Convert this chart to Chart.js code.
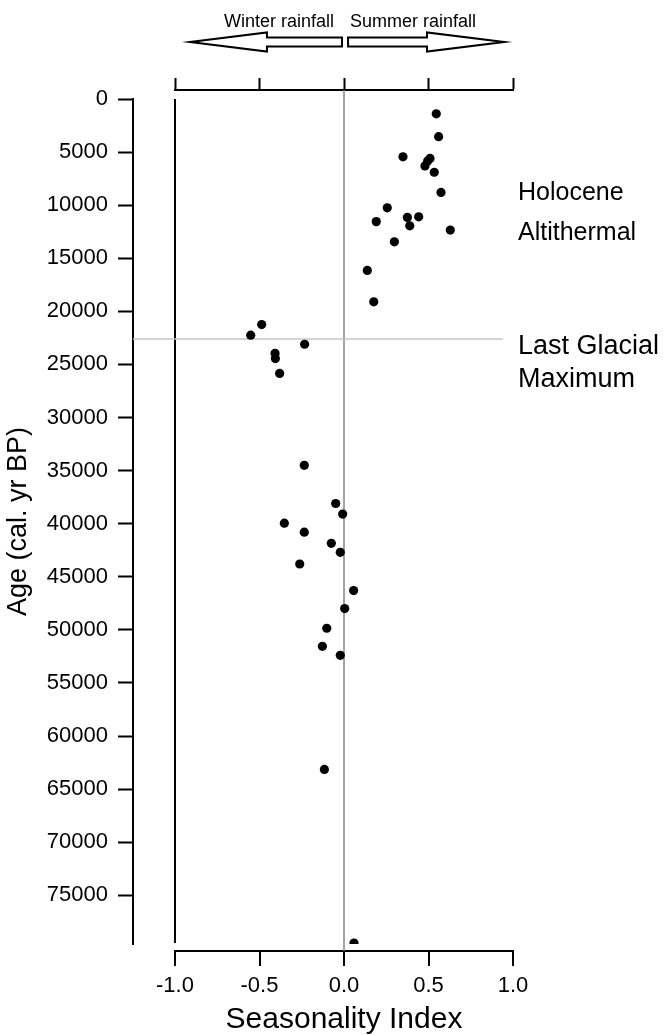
<!DOCTYPE html>
<html>
<head>
<meta charset="utf-8">
<script src="https://cdn.jsdelivr.net/npm/chart.js@4/dist/chart.umd.min.js"></script>
<style>
  html, body { margin: 0; padding: 0; background: #fff; }
  #box { width: 666px; height: 1035px; }
</style>
</head>
<body>
<div id="box"><canvas id="sc" width="666" height="1035"></canvas></div>
<script>
// seasonality index (x) and age in cal. yr BP (y)
let seasonality = [0.546, 0.56, 0.349, 0.509, 0.495, 0.479, 0.534, 0.574, 0.256, 0.375,
                   0.442, 0.191, 0.389, 0.629, 0.298, 0.138, 0.176, -0.487, -0.552, -0.233,
                   -0.408, -0.406, -0.381, -0.235, -0.049, -0.008, -0.353, -0.235, -0.075, -0.022,
                   -0.262, 0.057, 0.004, -0.102, -0.128, -0.022, -0.116, 0.059];
let ages = [1400, 3550, 5450, 5600, 5850, 6300, 6900, 8800, 10250, 11150,
            11100, 11550, 11950, 12350, 13450, 16150, 19100, 21250, 22250, 23100,
            23950, 24450, 25850, 34500, 38100, 39100, 39950, 40800, 41850, 42700,
            43800, 46300, 48000, 49850, 51550, 52400, 63150, 79500];

let ageTicks = [0, 5000, 10000, 15000, 20000, 25000, 30000, 35000, 40000, 45000,
                50000, 55000, 60000, 65000, 70000, 75000];
let indexTicks = [-1.0, -0.5, 0.0, 0.5, 1.0];
let lgmAge = 22600;

const FONT = "'Liberation Sans', Arial, Helvetica, sans-serif";
const points = seasonality.map((v, i) => ({x: v, y: ages[i]}));

// gray reference lines: zero index and Last Glacial Maximum
const refLines = {
    id: 'refLines',
    beforeDatasetsDraw(chart) {
        const {ctx, scales} = chart;
        const x = scales.x, top = scales.x2, y = scales.y;
        ctx.save();
        ctx.lineWidth = 1.5;
        ctx.strokeStyle = '#858585';
        let x0 = x.getPixelForValue(0);
        ctx.beginPath();
        ctx.moveTo(x0, top.bottom);
        ctx.lineTo(x0, x.top);
        ctx.stroke();

        ctx.strokeStyle = '#c4c4c4';
        let yl = y.getPixelForValue(lgmAge);
        ctx.beginPath();
        ctx.moveTo(y.right, yl);
        ctx.lineTo(x.getPixelForValue(0.94), yl);
        ctx.stroke();
        ctx.restore();
    }
};

// period labels and the rainfall arrows
const notes = {
    id: 'notes',
    afterDraw(chart) {
        const {ctx, scales, chartArea} = chart;
        const x = scales.x, y = scales.y, top = scales.x2;
        ctx.save();
        ctx.fillStyle = '#000';
        ctx.textBaseline = 'middle';
        ctx.textAlign = 'left';
        ctx.font = '25px ' + FONT;
        ctx.fillText('Holocene', chartArea.right + 5, y.getPixelForValue(8900));
        ctx.fillText('Altithermal', chartArea.right + 5, y.getPixelForValue(12600));
        ctx.font = '27px ' + FONT;
        ctx.fillText('Last Glacial', chartArea.right + 5, y.getPixelForValue(23300));
        ctx.fillText('Maximum', chartArea.right + 5, y.getPixelForValue(26400));

        let x0 = x.getPixelForValue(0);
        let yc = top.bottom - 48;
        ctx.font = '18px ' + FONT;
        ctx.textBaseline = 'alphabetic';
        ctx.textAlign = 'right';
        ctx.fillText('Winter rainfall', x0 - 10, yc - 15);
        ctx.textAlign = 'left';
        ctx.fillText('Summer rainfall', x0 + 6, yc - 15);

        const arrow = (from, base, tip) => {
            let a = x.getPixelForValue(from), b = x.getPixelForValue(base), c = x.getPixelForValue(tip);
            ctx.beginPath();
            ctx.moveTo(a, yc - 4.5);
            ctx.lineTo(b, yc - 4.5);
            ctx.lineTo(b, yc - 9.5);
            ctx.lineTo(c, yc);
            ctx.lineTo(b, yc + 9.5);
            ctx.lineTo(b, yc + 4.5);
            ctx.lineTo(a, yc + 4.5);
            ctx.closePath();
            ctx.fillStyle = '#fff';
            ctx.fill();
            ctx.stroke();
        };
        ctx.lineWidth = 2;
        ctx.strokeStyle = '#000';
        arrow(-0.012, -0.456, -0.911);
        arrow(0.024, 0.491, 0.948);
        ctx.restore();
    }
};

const ctx = document.getElementById('sc').getContext('2d');
const myChart = new Chart(ctx, {
    type: 'scatter',
    data: {
        datasets: [{
            label: 'Seasonality',
            data: points,
            backgroundColor: '#000',
            borderWidth: 0,
            pointRadius: 4.6,
            xAxisID: 'x',
            yAxisID: 'y'
        }]
    },
    options: {
        responsive: false,
        animation: false,
        layout: { padding: { top: 78, right: 153, bottom: 3, left: 0 } },
        scales: {
            x: {
                type: 'linear',
                position: 'bottom',
                weight: 1,
                min: -1,
                max: 1,
                afterBuildTicks: s => { s.ticks = indexTicks.map(v => ({value: v})); },
                ticks: {
                    callback: v => v.toFixed(1),
                    font: { family: FONT, size: 22, lineHeight: 1.2 },
                    color: '#000',
                    padding: 7,
                    maxRotation: 0
                },
                grid: {
                    color: c => (c.tick && c.tick.value === -1) ? '#000' : 'rgba(0,0,0,0)',
                    lineWidth: 2,
                    tickColor: '#000',
                    tickWidth: 2,
                    tickLength: 15
                },
                border: { color: '#000', width: 2 },
                title: {
                    display: true,
                    text: 'Seasonality Index',
                    font: { family: FONT, size: 30, lineHeight: 0.85 },
                    color: '#000',
                    padding: { top: 0, bottom: 0 }
                }
            },
            xGapB: {
                type: 'linear',
                axis: 'x',
                position: 'bottom',
                weight: 0,
                grid: { display: false },
                ticks: { display: false },
                border: { display: false },
                afterFit: s => { s.height = 7; }
            },
            x2: {
                type: 'linear',
                axis: 'x',
                position: 'top',
                weight: 1,
                min: -1,
                max: 1,
                afterBuildTicks: s => { s.ticks = indexTicks.map(v => ({value: v})); },
                ticks: { display: false },
                grid: {
                    drawOnChartArea: false,
                    tickColor: '#000',
                    tickWidth: 2,
                    tickLength: 12
                },
                border: { color: '#000', width: 2 }
            },
            xGapT: {
                type: 'linear',
                axis: 'x',
                position: 'top',
                weight: 0,
                grid: { display: false },
                ticks: { display: false },
                border: { display: false },
                afterFit: s => { s.height = 9; }
            },
            y: {
                type: 'linear',
                position: 'left',
                weight: 1,
                reverse: true,
                min: 0,
                max: 79600,
                afterBuildTicks: s => {
                    let all = [];
                    ageTicks.forEach(v => { all.push({value: v}); all.push({value: v + 2500}); });
                    s.ticks = all;
                },
                afterFit: s => { s.width = 133; },
                ticks: {
                    callback: v => (v % 5000 === 0 ? String(v) : ''),
                    font: { family: FONT, size: 22 },
                    color: '#000',
                    padding: 10
                },
                grid: {
                    drawOnChartArea: false,
                    tickColor: '#000',
                    tickWidth: 2,
                    tickLength: 15,
                    tickBorderDash: c => (c.tick && c.tick.value % 5000 !== 0) ? [0, 5, 20] : []
                },
                border: { color: '#000', width: 2 },
                title: {
                    display: true,
                    text: 'Age (cal. yr BP)',
                    font: { family: FONT, size: 27 },
                    color: '#000',
                    padding: { top: 2, bottom: 0 }
                }
            },
            yGap: {
                type: 'linear',
                axis: 'y',
                position: 'left',
                weight: 0,
                grid: { display: false },
                ticks: { display: false },
                border: { display: false },
                afterFit: s => { s.width = 42; }
            }
        },
        plugins: {
            legend: { display: false },
            tooltip: { enabled: false }
        }
    },
    plugins: [refLines, notes]
});
</script>
</body>
</html>
